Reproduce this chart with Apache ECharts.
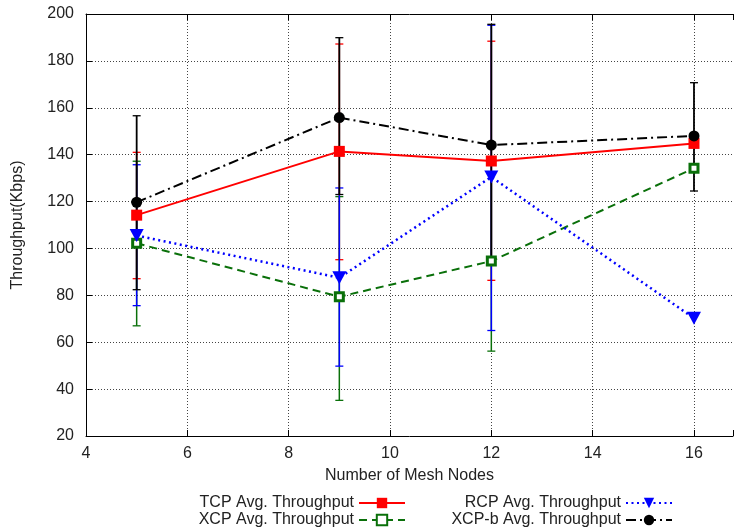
<!DOCTYPE html>
<html>
<head>
<meta charset="utf-8">
<script src="https://cdn.jsdelivr.net/npm/echarts@6/dist/echarts.min.js"></script>
<style>
  html, body { margin: 0; padding: 0; background: #fff; }
  #main { width: 736px; height: 532px; }
</style>
</head>
<body>
<div id="main"></div>
<script>
// mesh node counts on the x axis
var nodes = [5, 9, 12, 16];
var xTicks = [4, 6, 8, 10, 12, 14, 16];
var xMax = 16.77; // the plot frame runs past the right edge of the image

// average throughput (Kbps)
var tcpAvg = [114.2, 141.4, 137.3, 144.8];
var xcpAvg = [102.2, 79.4, 94.6, 134.2];
var rcpAvg = [105.5, 87.5, 130.5, 70.2];
var xcpbAvg = [119.7, 155.8, 144.1, 148.0];

// error bar ranges [low, high], null = no bar
var tcpErr = [[87.1, 141.0], [95.2, 187.2], [86.4, 188.4], null];
var xcpErr = [[67.0, 137.2], [35.2, 122.1], [56.2, 132.3], null];
var rcpErr = [[75.6, 135.7], [49.8, 125.8], [65.0, 195.2], null];
var xcpbErr = [[82.4, 156.6], [123.0, 189.9], [93.0, 195.6], [124.5, 170.7]];

var FONT = 'Liberation Sans';
var FS = 16;

function pairs(vals) {
  return nodes.map(function (n, i) { return [n, vals[i]]; });
}

function errData(errs) {
  var out = [];
  errs.forEach(function (e, i) {
    if (e) out.push([nodes[i], e[0], e[1]]);
  });
  return out;
}

function errSeries(errs, color, width) {
  return {
    type: 'custom',
    xAxisIndex: 0,
    yAxisIndex: 0,
    data: errData(errs),
    clip: false,
    renderItem: function (params, api) {
      var lo = api.coord([api.value(0), api.value(1)]);
      var hi = api.coord([api.value(0), api.value(2)]);
      var cap = 4;
      var style = { stroke: color, lineWidth: width };
      var capStyle = { stroke: color, lineWidth: 1.3 };
      return {
        type: 'group',
        children: [
          { type: 'line', shape: { x1: lo[0], y1: lo[1], x2: hi[0], y2: hi[1] }, style: style },
          { type: 'line', shape: { x1: lo[0] - cap, y1: lo[1], x2: lo[0] + cap, y2: lo[1] }, style: capStyle },
          { type: 'line', shape: { x1: hi[0] - cap, y1: hi[1], x2: hi[0] + cap, y2: hi[1] }, style: capStyle }
        ]
      };
    }
  };
}

function legendBox(name, right, top) {
  return {
    data: [name],
    right: right,
    top: top,
    padding: 0,
    align: 'right',
    itemWidth: 46,
    itemHeight: 13,
    itemGap: 10,
    selectedMode: false,
    textStyle: { fontFamily: FONT, fontSize: FS, color: '#222' }
  };
}

var chart = echarts.init(document.getElementById('main'));
chart.setOption({
  animation: false,
  backgroundColor: '#fff',
  grid: { left: 86, right: 0, top: 14, bottom: 96 },
  legend: [
    legendBox('TCP Avg. Throughput', 330, 495),
    legendBox('XCP Avg. Throughput', 330, 512),
    legendBox('RCP Avg. Throughput', 63, 495),
    legendBox('XCP-b Avg. Throughput', 63, 512)
  ],
  xAxis: [{
    type: 'value',
    min: 4, max: xMax, interval: 2,
    name: 'Number of Mesh Nodes',
    nameLocation: 'middle',
    nameGap: 32,
    nameTextStyle: { fontFamily: FONT, fontSize: FS, color: '#222' },
    axisLine: { show: true, lineStyle: { color: '#000', width: 1 } },
    axisTick: { show: true, inside: true, length: 6, lineStyle: { color: '#000' } },
    axisLabel: {
      fontFamily: FONT, fontSize: FS, color: '#222', margin: 10,
      formatter: function (v) { return xTicks.indexOf(v) >= 0 ? String(v) : ''; }
    },
    splitLine: { show: true, showMaxLine: false, lineStyle: { color: '#444', type: [1, 2], width: 1 } }
  }, {
    type: 'value',
    position: 'top',
    min: 4, max: xMax, interval: 2,
    axisLine: { show: true, lineStyle: { color: '#000', width: 1 } },
    axisTick: { show: true, inside: true, length: 6, lineStyle: { color: '#000' } },
    axisLabel: { show: false },
    splitLine: { show: false }
  }],
  yAxis: {
    type: 'value',
    min: 20, max: 200, interval: 20,
    name: 'Throughput(Kbps)',
    nameLocation: 'middle',
    nameGap: 60,
    nameTextStyle: { fontFamily: FONT, fontSize: FS, color: '#222' },
    axisLine: { show: true, lineStyle: { color: '#000', width: 1 } },
    axisTick: { show: true, inside: true, length: 6, lineStyle: { color: '#000' } },
    axisLabel: { fontFamily: FONT, fontSize: FS, color: '#222', margin: 12 },
    splitLine: { show: true, lineStyle: { color: '#444', type: [1, 2], width: 1 } }
  },
  series: [
    errSeries(tcpErr, '#ff0000', 1.5),
    {
      name: 'TCP Avg. Throughput',
      type: 'line',
      data: pairs(tcpAvg),
      symbol: 'rect',
      symbolSize: 11,
      itemStyle: { color: '#ff0000' },
      lineStyle: { color: '#ff0000', width: 2 }
    },
    errSeries(xcpErr, '#0a700a', 1.5),
    {
      name: 'XCP Avg. Throughput',
      type: 'line',
      data: pairs(xcpAvg),
      symbol: 'rect',
      symbolSize: 8,
      itemStyle: { color: '#ffffff', borderColor: '#0a700a', borderWidth: 3 },
      lineStyle: { color: '#0a700a', width: 2, type: [8, 5] }
    },
    errSeries(rcpErr, '#0000ff', 1.5),
    {
      name: 'RCP Avg. Throughput',
      type: 'line',
      data: pairs(rcpAvg),
      symbol: 'triangle',
      symbolRotate: 180,
      symbolSize: [14, 13],
      itemStyle: { color: '#0000ff' },
      lineStyle: { color: '#0000ff', width: 2.5, type: [2, 3.5] }
    },
    errSeries(xcpbErr, '#000000', 1.8),
    {
      name: 'XCP-b Avg. Throughput',
      type: 'line',
      data: pairs(xcpbAvg),
      symbol: 'circle',
      symbolSize: 11,
      itemStyle: { color: '#000000' },
      lineStyle: { color: '#000000', width: 2, type: [10, 4, 2, 4] }
    }
  ]
});
</script>
</body>
</html>
